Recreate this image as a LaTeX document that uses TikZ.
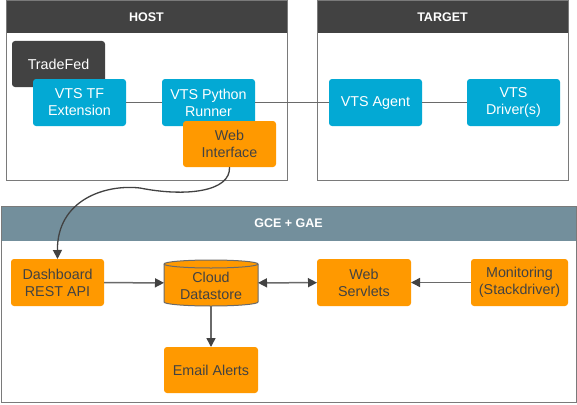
\documentclass[tikz,border=0pt]{standalone}
\usepackage{fontspec}
\setmainfont{Liberation Sans}
\usetikzlibrary{arrows.meta}
\definecolor{vblue}{HTML}{03A9D4}
\definecolor{vorange}{HTML}{FF9900}
\definecolor{vdark}{HTML}{424242}
\definecolor{vgrayhdr}{HTML}{738F9C}
\definecolor{vframe}{HTML}{7A7A7A}
\definecolor{vline}{HTML}{6A6A6A}
\begin{document}
\begin{tikzpicture}[x=1pt,y=-1pt,
  every node/.style={inner sep=0pt, outer sep=0pt},
  frame/.style={draw=vframe, line width=1pt, fill=white, anchor=north west},
  hdr/.style={fill=#1, anchor=north west, text=white, font=\fontsize{12.5}{14}\selectfont\bfseries},
  boxbase/.style={rounded corners=3pt, align=center, minimum width=93pt, minimum height=47pt, font=\fontsize{14.3}{17}\selectfont},
  bluebox/.style={boxbase, fill=vblue, text=white},
  darkbox/.style={boxbase, fill=vdark, text=white},
  orangebox/.style={boxbase, fill=vorange, text=vdark},
  conn/.style={draw=vline, line width=1.5pt},
  arr/.style={draw=vline, line width=1.5pt, -{Triangle[length=9pt,width=9pt,fill=vdark,color=vdark]}},
  darr/.style={draw=vline, line width=1.5pt, {Triangle[length=9pt,width=9pt,fill=vdark,color=vdark]}-{Triangle[length=9pt,width=9pt,fill=vdark,color=vdark]}}
]
\useasboundingbox (0,0) rectangle (577,404);

% HOST frame
\node[frame, minimum width=281pt, minimum height=179pt] (host) at (6,1) {};
\node[hdr=vdark, minimum width=280pt, minimum height=32pt] (hosthdr) at (6.5,1.5) {HOST};
% TARGET frame
\node[frame, minimum width=251pt, minimum height=179pt] (target) at (317,1) {};
\node[hdr=vdark, minimum width=250pt, minimum height=32pt] (targethdr) at (317.5,1.5) {TARGET};
% GCE frame
\node[frame, minimum width=575pt, minimum height=196pt] (gce) at (1,206) {};
\node[hdr=vgrayhdr, minimum width=574pt, minimum height=34pt] (gcehdr) at (1.5,206.5) {GCE + GAE};

% Host contents
\node[darkbox, minimum height=46pt] (tradefed) at (58.5,64) {TradeFed};
\node[bluebox] (tfext) at (79.5,102.5) {VTS TF\\Extension};
\node[bluebox] (runner) at (208.5,102.5) {VTS Python\\Runner};
\node[orangebox, minimum height=46pt] (web) at (229.5,144) {Web\\Interface};

% Target contents
\node[bluebox] (agent) at (375.5,102.5) {VTS Agent};
\node[bluebox] (driver) at (513.5,102.5) {VTS\\Driver(s)};

\draw[conn] (tfext) -- (runner);
\draw[conn] (runner) -- (agent);
\draw[conn] (agent) -- (driver);

% GCE contents
\node[orangebox] (dash) at (57.5,282.5) {Dashboard\\REST API};
\node[minimum width=94pt, minimum height=46pt] (storebox) at (211,283) {};
\draw[draw=vline, line width=1pt, fill=vorange]
  (164,264) -- (164,302) arc[start angle=180, end angle=0, x radius=47, y radius=4]
  -- (258,264) arc[start angle=0, end angle=-180, x radius=47, y radius=4] -- cycle;
\draw[draw=vline, line width=1pt] (164,264) arc[start angle=180, end angle=0, x radius=47, y radius=4];
\node[align=center, text=vdark, font=\fontsize{14.3}{17}\selectfont] (store) at (211,285.5) {Cloud\\Datastore};
\node[orangebox, minimum width=94pt, minimum height=46pt] (email) at (211,370) {Email Alerts};
\node[orangebox, minimum width=94pt] (servlets) at (364,282.5) {Web\\Servlets};
\node[orangebox, minimum width=97pt] (monitor) at (519.5,282.5) {Monitoring\\(Stackdriver)};

\draw[arr] (dash) -- (storebox);
\draw[darr] (storebox) -- (servlets);
\draw[arr] (monitor) -- (servlets);
\draw[arr] (storebox) -- (email);

% curved connector
\coordinate (mid) at (140,188);
\draw[draw=vdark, line width=1.3pt, -{Triangle[length=9pt,width=9pt]}]
  (web.south) .. controls (231,192) and (185,197) .. (mid)
  .. controls (105,184) and (57,200) .. (dash.north);
\end{tikzpicture}
\end{document}
